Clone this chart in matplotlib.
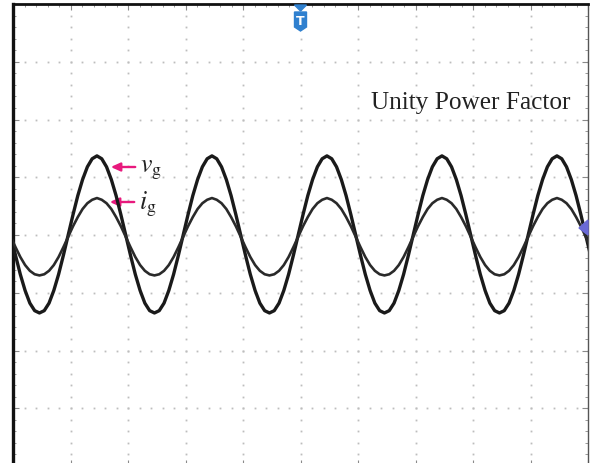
import numpy as np
import matplotlib
matplotlib.use("Agg")
import matplotlib.pyplot as plt
from matplotlib.patches import Polygon

# ---------------- data ----------------
# screen: 10 horizontal divisions, 8 vertical divisions (-4..4)
n_hdiv = 10
n_vdiv = 8
period_div = 2.0          # one line cycle spans 2 horizontal divisions
first_rise_div = 0.96     # first rising zero crossing of v_g / i_g (divisions)

# one cycle sampled every 15 degrees, starting at the rising zero crossing (divisions)
vg_cycle = [0.00, 0.35, 0.68, 0.96, 1.18, 1.32, 1.37, 1.32, 1.18, 0.96, 0.68, 0.35,
            0.00, -0.35, -0.68, -0.96, -1.18, -1.31, -1.35, -1.31, -1.18, -0.96, -0.68, -0.35]
ig_cycle = [-0.03, 0.15, 0.31, 0.45, 0.55, 0.61, 0.64, 0.61, 0.55, 0.45, 0.31, 0.15,
            -0.03, -0.21, -0.38, -0.52, -0.62, -0.68, -0.70, -0.68, -0.62, -0.52, -0.38, -0.21]

title_text = "Unity Power Factor"
vg_label = r"$v_\mathrm{g}$"
ig_label = r"$i_\mathrm{g}$"

# ---------------- figure ----------------
W, H = 590, 464
plt.rcParams["mathtext.fontset"] = "stix"
fig = plt.figure(figsize=(W / 100, H / 100), dpi=100)
fig.patch.set_facecolor("white")

def fx(px):
    return px / W

def fy(py):
    return 1 - py / H

left_px, right_px, top_px, bot_px = 13, 588, 5, 467
ax = fig.add_axes([fx(left_px), fy(bot_px), (right_px - left_px) / W, (bot_px - top_px) / H])
ax.set_xlim(0, n_hdiv)
ax.set_ylim(-n_vdiv / 2, n_vdiv / 2)
ax.set_facecolor("white")

# grid dots at minor subdivisions along major grid lines
dot_col = "#bdbdbd"
minor = np.arange(0, n_hdiv + 1e-9, 0.2)
minor_v = np.arange(-n_vdiv / 2, n_vdiv / 2 + 1e-9, 0.2)
for gy in range(-n_vdiv // 2 + 1, n_vdiv // 2):
    ax.plot(minor, np.full_like(minor, gy), ls="none", marker="s", ms=1.3,
            mec="none", mfc=dot_col, zorder=1)
for gx in range(1, n_hdiv):
    ax.plot(np.full_like(minor_v, gx), minor_v, ls="none", marker="s", ms=1.3,
            mec="none", mfc=dot_col, zorder=1)

# border ticks
ax.set_xticks(np.arange(0, n_hdiv + 1, 1))
ax.set_yticks(np.arange(-n_vdiv / 2, n_vdiv / 2 + 1, 1))
ax.set_xticks(minor, minor=True)
ax.set_yticks(minor_v, minor=True)
ax.tick_params(which="both", direction="in", top=True, right=True, bottom=True, left=True,
               labelbottom=False, labelleft=False, color="#8a8a8a")
ax.tick_params(which="major", length=4.5, width=0.8)
ax.tick_params(which="minor", length=2.2, width=0.6)

ax.spines["left"].set_linewidth(2.4)
ax.spines["left"].set_color("#111111")
ax.spines["top"].set_linewidth(2.0)
ax.spines["top"].set_color("#111111")
ax.spines["right"].set_linewidth(1.0)
ax.spines["right"].set_color("#555555")
ax.spines["bottom"].set_visible(False)

# traces
n = len(vg_cycle)
k = np.arange(-n // 2, int((n_hdiv - first_rise_div) / period_div * n) + 2)
t = first_rise_div + k * period_div / n
vg = np.array(vg_cycle)[k % n]
ig = np.array(ig_cycle)[k % n]
ax.plot(t, vg, color="#1a1a1a", lw=2.4, solid_joinstyle="round", zorder=4)
ax.plot(t, ig, color="#2a2a2a", lw=1.9, solid_joinstyle="round", zorder=4)

# annotation text
fig.text(fx(371), fy(103), title_text, family="Liberation Serif", fontsize=18.2,
         color="#222222", va="center", ha="left")

mag = "#e8197d"
ax.annotate("", xy=(fx(108), fy(168)), xytext=(fx(138), fy(168)),
            xycoords="figure fraction", textcoords="figure fraction",
            arrowprops=dict(arrowstyle="-|>,head_length=0.55,head_width=0.25", color=mag, lw=1.7))
ax.annotate("", xy=(fx(107), fy(203)), xytext=(fx(137), fy(203)),
            xycoords="figure fraction", textcoords="figure fraction",
            arrowprops=dict(arrowstyle="-|>,head_length=0.55,head_width=0.25", color=mag, lw=1.7))
fig.text(fx(140), fy(169), vg_label, fontsize=18.5, color="#222222", va="center", ha="left")
fig.text(fx(139), fy(204), ig_label, fontsize=18.5, color="#222222", va="center", ha="left")

# trigger marker "T" at top centre
blue = "#2f80cf"
fig.add_artist(Polygon([(fx(294.5), fy(6)), (fx(306.5), fy(6)), (fx(300.5), fy(12))],
                       closed=True, color=blue, transform=fig.transFigure))
fig.add_artist(Polygon([(fx(294.5), fy(13)), (fx(306.5), fy(13)), (fx(306.5), fy(28)),
                        (fx(300.5), fy(32)), (fx(294.5), fy(28))],
                       closed=True, color=blue, transform=fig.transFigure))
fig.text(fx(300.5), fy(21.5), "T", color="white", fontsize=9, fontweight="bold",
         ha="center", va="center")

# trigger level marker at right edge
fig.add_artist(Polygon([(fx(588), fy(221)), (fx(588), fy(236)), (fx(579), fy(229))],
                       closed=True, color="#6a6ad6", transform=fig.transFigure))

fig.savefig("out.png", dpi=100, facecolor="white")
